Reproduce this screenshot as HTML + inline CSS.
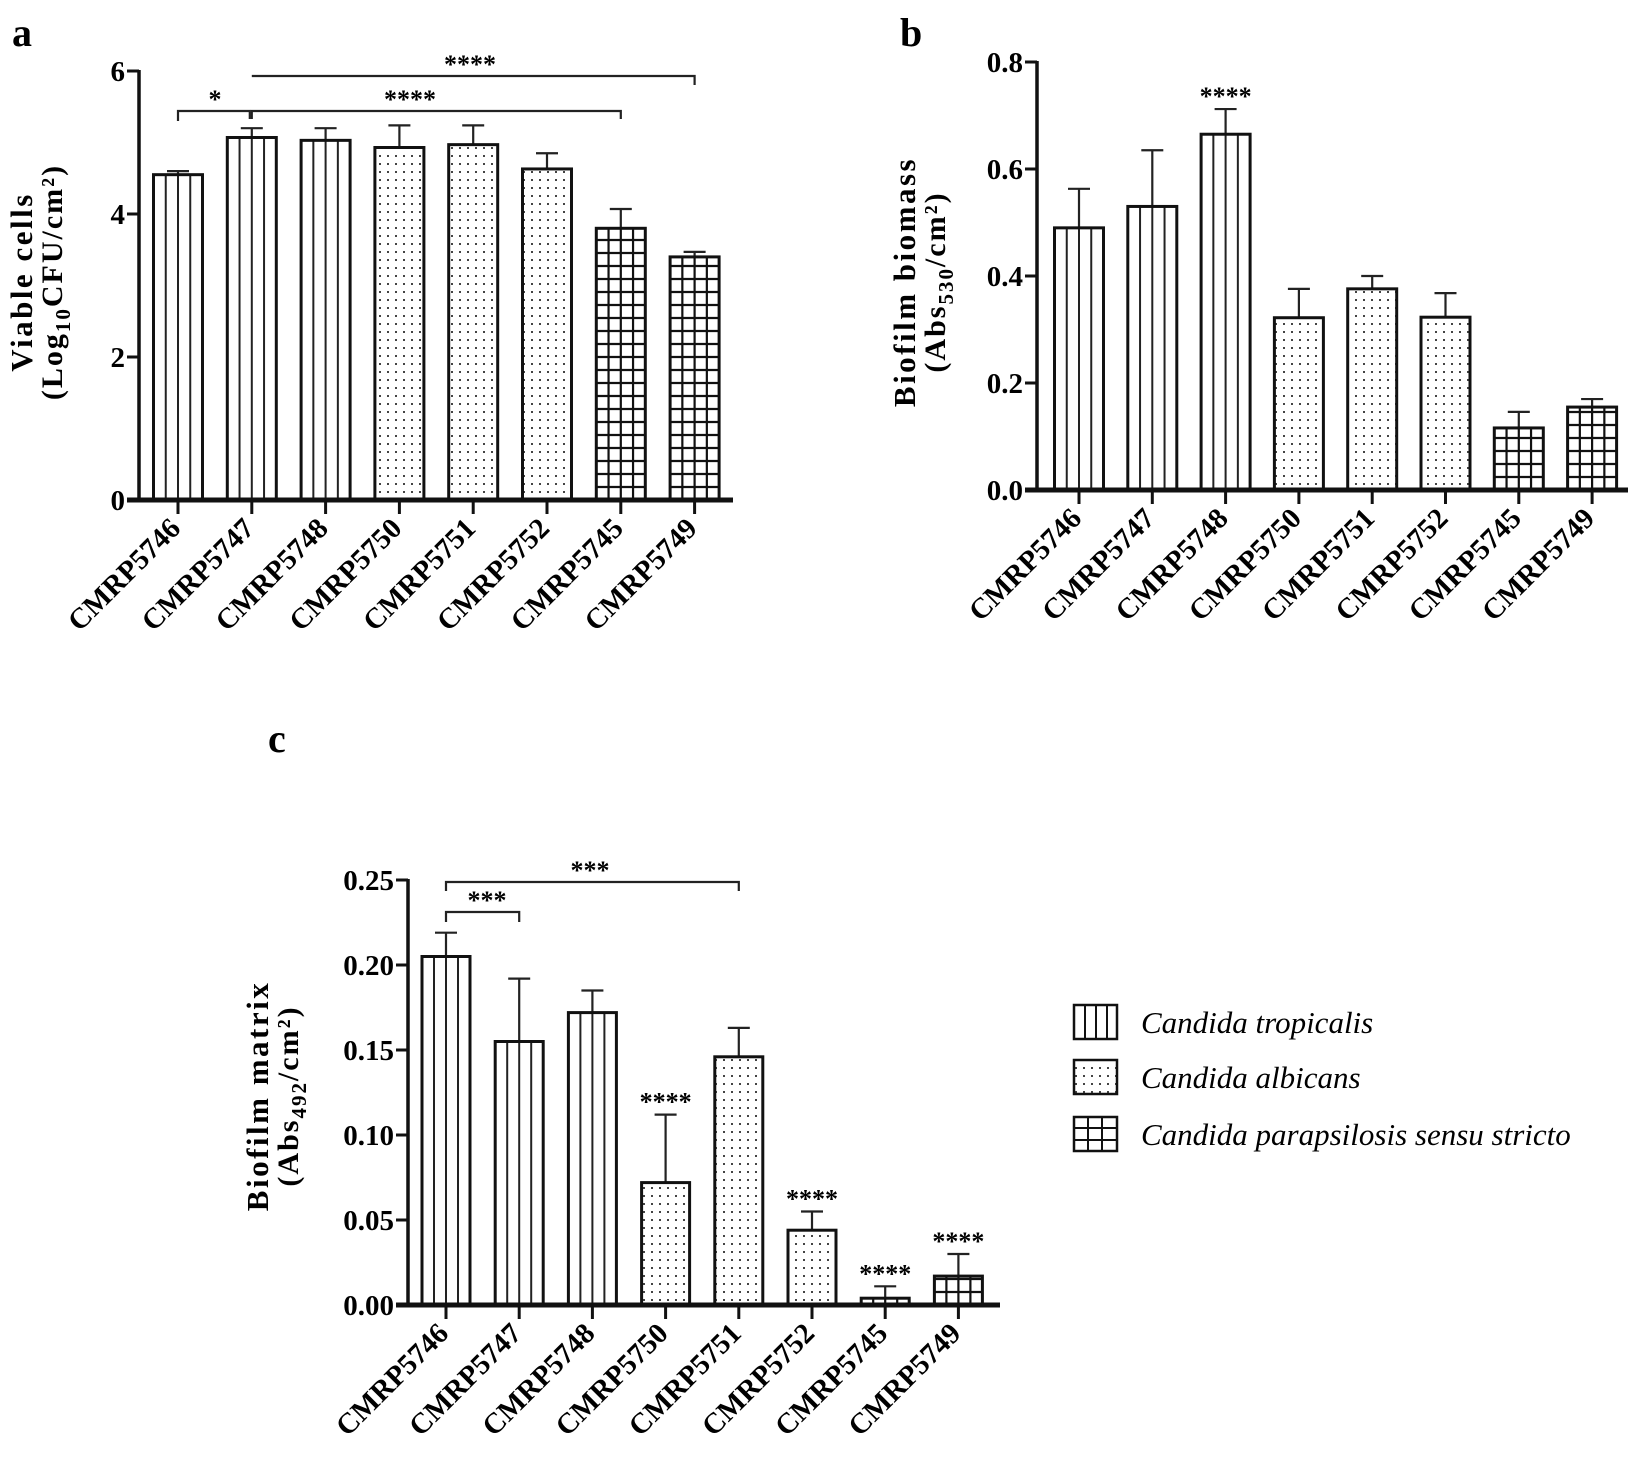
<!DOCTYPE html>
<html><head><meta charset="utf-8"><style>
html,body{margin:0;padding:0;background:#fff;}
svg{display:block;font-family:"Liberation Serif",serif;}
</style></head><body>
<svg id="fig" width="1637" height="1468" viewBox="0 0 1637 1468" xmlns="http://www.w3.org/2000/svg">
<defs>
<pattern id="dots" patternUnits="userSpaceOnUse" width="8" height="8"><rect x="3" y="3" width="2" height="2" fill="#444"/></pattern>
</defs>
<text x="12" y="46" font-size="40" font-weight="bold">a</text>
<text x="900" y="46" font-size="40" font-weight="bold">b</text>
<text x="268" y="752" font-size="40" font-weight="bold">c</text>
<g id="pa"></g>
<g id="pb"></g>
<g id="pc"></g>
<g>
 <g>
  <rect x="1074" y="1005" width="43" height="34" fill="#fff" stroke="#111" stroke-width="2.5"/>
  <path d="M1085 1005V1039M1096 1005V1039M1107 1005V1039" stroke="#111" stroke-width="2"/>
  <text x="1141" y="1033" font-size="31" font-style="italic">Candida tropicalis</text>
 </g>
 <g>
  <rect x="1074" y="1060" width="43" height="34" fill="url(#dots)" stroke="#111" stroke-width="2.5"/>
  <text x="1141" y="1088" font-size="31" font-style="italic">Candida albicans</text>
 </g>
 <g>
  <rect x="1074" y="1117" width="43" height="34" fill="#fff" stroke="#111" stroke-width="2.5"/>
  <path d="M1088 1117V1151M1102 1117V1151M1074 1128H1117M1074 1140H1117" stroke="#111" stroke-width="2"/>
  <text x="1141" y="1145" font-size="31" font-style="italic">Candida parapsilosis sensu stricto</text>
 </g>
</g>
</svg>
<script>
const categories = ["CMRP5746","CMRP5747","CMRP5748","CMRP5750","CMRP5751","CMRP5752","CMRP5745","CMRP5749"];
const species = ["trop","trop","trop","alb","alb","alb","para","para"];
const valuesA = [4.55,5.07,5.03,4.93,4.97,4.63,3.80,3.40];
const errTopA = [4.60,5.20,5.20,5.24,5.24,4.85,4.07,3.47];
const ticksA = [0,2,4,6];
const tickLabelsA = ["0","2","4","6"];
const valuesB = [0.49,0.53,0.665,0.322,0.376,0.323,0.116,0.155];
const errTopB = [0.563,0.635,0.712,0.376,0.400,0.368,0.146,0.170];
const ticksB = [0,0.2,0.4,0.6,0.8];
const tickLabelsB = ["0.0","0.2","0.4","0.6","0.8"];
const valuesC = [0.205,0.155,0.172,0.072,0.146,0.044,0.004,0.017];
const errTopC = [0.219,0.192,0.185,0.112,0.163,0.055,0.011,0.030];
const ticksC = [0,0.05,0.10,0.15,0.20,0.25];
const tickLabelsC = ["0.00","0.05","0.10","0.15","0.20","0.25"];
const starsB = ["","","****","","","","",""];
const starsC = ["","","","****","","****","****","****"];

const NS="http://www.w3.org/2000/svg";
function mk(parent,tag,attrs,text){const e=document.createElementNS(NS,tag);for(const k in attrs)e.setAttribute(k,attrs[k]);if(text!==undefined)e.textContent=text;parent.appendChild(e);return e;}

function panel(g,cfg){
  const {ax,y0,yTop,vmax,x1,xEnd,dx,bw,vals,errs,ticks,tlabels,name,ylab1,ylab2,sub,ylx,yly,fs,stars} = cfg;
  const Y=v=>y0-(v/vmax)*(y0-yTop);
  const X=i=>x1+i*dx;
  vals.forEach((v,i)=>{
    const cx=X(i), l=cx-bw/2, t=Y(v), h=y0-t;
    const bg=mk(g,'g',{});
    
    
    const eb=mk(bg,'path',{d:`M${cx} ${t}V${Y(errs[i])}M${cx-11} ${Y(errs[i])}H${cx+11}`,stroke:'#222','stroke-width':2.2,fill:'none'});
    
    
    const sp=species[i];
    mk(bg,'rect',{x:l,y:t,width:bw,height:h,fill:sp==='alb'?'url(#dots)':'#fff',stroke:'none'});
    if(sp==='trop'){for(let k=1;k<4;k++)mk(bg,'line',{x1:l+k*bw/4,x2:l+k*bw/4,y1:t,y2:y0,stroke:'#222','stroke-width':2});}
    if(sp==='para'){
      for(let k=1;k<4;k++)mk(bg,'line',{x1:l+k*bw/4,x2:l+k*bw/4,y1:t,y2:y0,stroke:'#111','stroke-width':2.2});
      for(let yy=y0-13;yy>t+2;yy-=13)mk(bg,'line',{x1:l,x2:l+bw,y1:yy,y2:yy,stroke:'#111','stroke-width':2.2});
    }
    mk(bg,'rect',{x:l,y:t,width:bw,height:h,fill:'none',stroke:'#111','stroke-width':3});
    if(stars&&stars[i]){const s=mk(g,'text',{x:cx,y:Y(errs[i])-4,'font-size':26,'font-weight':'bold','text-anchor':'middle'},stars[i]);
      
      }
    mk(g,'line',{x1:cx,x2:cx,y1:y0,y2:y0+14,stroke:'#111','stroke-width':3});
    const lab=mk(g,'text',{x:cx+4,y:y0+30,'font-size':fs,'font-weight':'bold','text-anchor':'end',transform:`rotate(-45 ${cx+4} ${y0+30})`},categories[i]);
    
    
  });
  const axY=mk(g,'line',{x1:ax,x2:ax,y1:yTop-1,y2:y0+2,stroke:'#111','stroke-width':3.5});
  
  
  const axX=mk(g,'line',{x1:ax-12,x2:xEnd,y1:y0,y2:y0,stroke:'#111','stroke-width':5});
  
  
  ticks.forEach((v,i)=>{
    mk(g,'line',{x1:ax-12,x2:ax,y1:Y(v),y2:Y(v),stroke:'#111','stroke-width':3});
    const t=mk(g,'text',{x:ax-14,y:Y(v)+10,'font-size':29,'font-weight':'bold','text-anchor':'end'},tlabels[i]);
    
    
  });
  const t1=mk(g,'text',{x:0,y:0,'font-size':31,'font-weight':'bold','letter-spacing':2.5,'text-anchor':'middle',transform:`translate(${ylx} ${yly}) rotate(-90)`},ylab1);
  
  
  const t2=mk(g,'text',{x:0,y:0,'font-size':30,'font-weight':'bold','letter-spacing':2,'text-anchor':'middle',transform:`translate(${ylx+30} ${yly}) rotate(-90)`});
  
  
  mk(t2,'tspan',{},ylab2[0]);
  mk(t2,'tspan',{'font-size':21,dy:8},sub);
  mk(t2,'tspan',{dy:-8},ylab2[1]);
  return {X,Y};
}
function bracket(g,x1,x2,y,d1,d2,txt,tx){
  const b=mk(g,'path',{d:`M${x1} ${y+d1}V${y}H${x2}V${y+d2}`,stroke:'#222','stroke-width':2.2,fill:'none'});
  
  
  const t=mk(g,'text',{x:tx,y:y-3,'font-size':26,'font-weight':'bold','text-anchor':'middle'},txt);
  
  
}
const A=panel(document.getElementById('pa'),{ax:139,y0:500,yTop:71,vmax:6,x1:178,xEnd:733,dx:73.8,bw:49,vals:valuesA,errs:errTopA,ticks:ticksA,tlabels:tickLabelsA,name:'a',ylab1:'Viable cells',ylab2:['(Log','CFU/cm²)'],sub:'10',ylx:32,yly:282,fs:29});
const ga=document.getElementById('pa');
bracket(ga,A.X(1),A.X(7),76,0,9,'****',470);
bracket(ga,A.X(1),A.X(6),111,8,8,'****',410);
bracket(ga,A.X(0),A.X(1)-2,111,10,8,'*',215);
panel(document.getElementById('pb'),{ax:1037,y0:490,yTop:62,vmax:0.8,x1:1079,xEnd:1628,dx:73.3,bw:49,vals:valuesB,errs:errTopB,ticks:ticksB,tlabels:tickLabelsB,name:'b',ylab1:'Biofilm biomass',ylab2:['(Abs','/cm²)'],sub:'530',ylx:915,yly:282,fs:29,stars:starsB});
const C=panel(document.getElementById('pc'),{ax:408,y0:1305,yTop:880,vmax:0.25,x1:446,xEnd:1000,dx:73.2,bw:48,vals:valuesC,errs:errTopC,ticks:ticksC,tlabels:tickLabelsC,name:'c',ylab1:'Biofilm matrix',ylab2:['(Abs','/cm²)'],sub:'492',ylx:268,yly:1096,fs:29,stars:starsC});
const gc=document.getElementById('pc');
bracket(gc,C.X(0),C.X(1),912,10,10,'***',487);
bracket(gc,C.X(0),C.X(4),882,9,9,'***',590);
</script>
</body></html>
